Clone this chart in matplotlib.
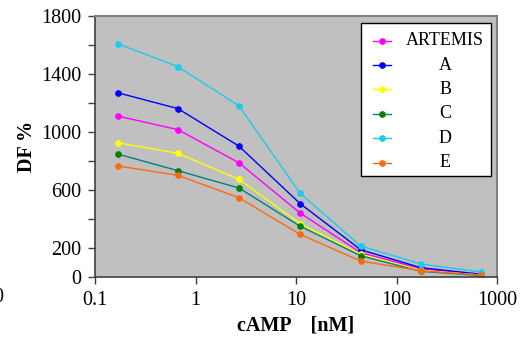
import numpy as np
import matplotlib
matplotlib.use("Agg")
import matplotlib.pyplot as plt
from matplotlib.patches import Rectangle
from matplotlib.ticker import FixedLocator, FixedFormatter, NullLocator

plt.rcParams['font.family'] = ['Liberation Serif', 'DejaVu Serif']

# cAMP concentration [nM]
camp = [0.168, 0.67, 2.7, 11, 44, 175, 700]

# DF % for each sample
artemis = [1110, 1016, 788, 441, 168, 57, 15]
a_vals = [1271, 1161, 903, 506, 188, 64, 19]
b_vals = [926, 853, 674, 368, 156, 46, 12]
c_vals = [848, 733, 614, 350, 147, 39, 10]
d_vals = [1609, 1450, 1181, 577, 214, 90, 34]
e_vals = [766, 701, 547, 294, 110, 43, 14]

labels = ['ARTEMIS', 'A', 'B', 'C', 'D', 'E']
series = [artemis, a_vals, b_vals, c_vals, d_vals, e_vals]
line_colors = ['#FF00FF', '#0000FF', '#FFFF00', '#008080', '#19CCEE', '#FF6A10']
marker_colors = ['#FF00FF', '#0000FF', '#FFFF00', '#008000', '#19CCEE', '#FF6A10']

y_ticks = [0, 200, 400, 600, 800, 1000, 1200, 1400, 1600, 1800]
y_labels = ['0', '200', '', '600', '', '1000', '', '1400', '', '1800']
x_ticks = [0.1, 1, 10, 100, 1000]
x_labels = ['0.1', '1', '10', '100', '1000']

W, H = 526, 337
fig = plt.figure(figsize=(W / 100, H / 100), dpi=100)
ax = fig.add_axes([95 / W, 1 - 277 / H, (497 - 95) / W, (277 - 16) / H])
ax.set_facecolor('#C0C0C0')

for vals, lab, lc, mc in zip(series, labels, line_colors, marker_colors):
    ax.plot(camp, vals, color=lc, lw=1.0, marker='o', ms=3.8,
            mfc=mc, mec=mc, label=lab)

ax.set_xscale('log')
ax.set_xlim(0.1, 1000)
ax.set_ylim(0, 1800)
ax.xaxis.set_major_locator(FixedLocator(x_ticks))
ax.xaxis.set_major_formatter(FixedFormatter(x_labels))
ax.xaxis.set_minor_locator(NullLocator())
ax.yaxis.set_major_locator(FixedLocator(y_ticks))
ax.yaxis.set_major_formatter(FixedFormatter(y_labels))

ax.tick_params(axis='both', direction='out', length=5, width=1,
               color='#404040', labelsize=14.5, pad=5)
for s in ['left', 'bottom']:
    ax.spines[s].set_color('#404040')
    ax.spines[s].set_linewidth(1.2)
for s in ['top', 'right']:
    ax.spines[s].set_color('#808080')
    ax.spines[s].set_linewidth(1.5)

ax.set_xlabel('cAMP    [nM]', fontsize=14.5, fontweight='bold', labelpad=4)
ax.set_ylabel('DF %', fontsize=14.5, fontweight='bold', labelpad=3)

# legend drawn by hand so the labels can be centred like the original
ax.add_patch(Rectangle((0.6617, 0.387), 0.3234, 0.5862, transform=ax.transAxes,
                       facecolor='white', edgecolor='black', lw=1.0,
                       zorder=5, clip_on=False))
row_y = np.linspace(0.906, 0.437, len(labels))
for yy, lab, lc, mc in zip(row_y, labels, line_colors, marker_colors):
    ax.plot([0.6915, 0.7363], [yy, yy], color=lc, lw=1.0,
            transform=ax.transAxes, zorder=6, clip_on=False)
    ax.plot([0.714], [yy], 'o', ms=3.8, mfc=mc, mec=mc,
            transform=ax.transAxes, zorder=7, clip_on=False)
    ax.text(0.871, yy, lab, fontsize=13, ha='center', va='center',
            transform=ax.transAxes, zorder=7)

# stray label at the far left
fig.text(3 / W, 1 - 298 / H, '0', fontsize=14.5, ha='right', va='center')

fig.savefig('out.png', dpi=100)
